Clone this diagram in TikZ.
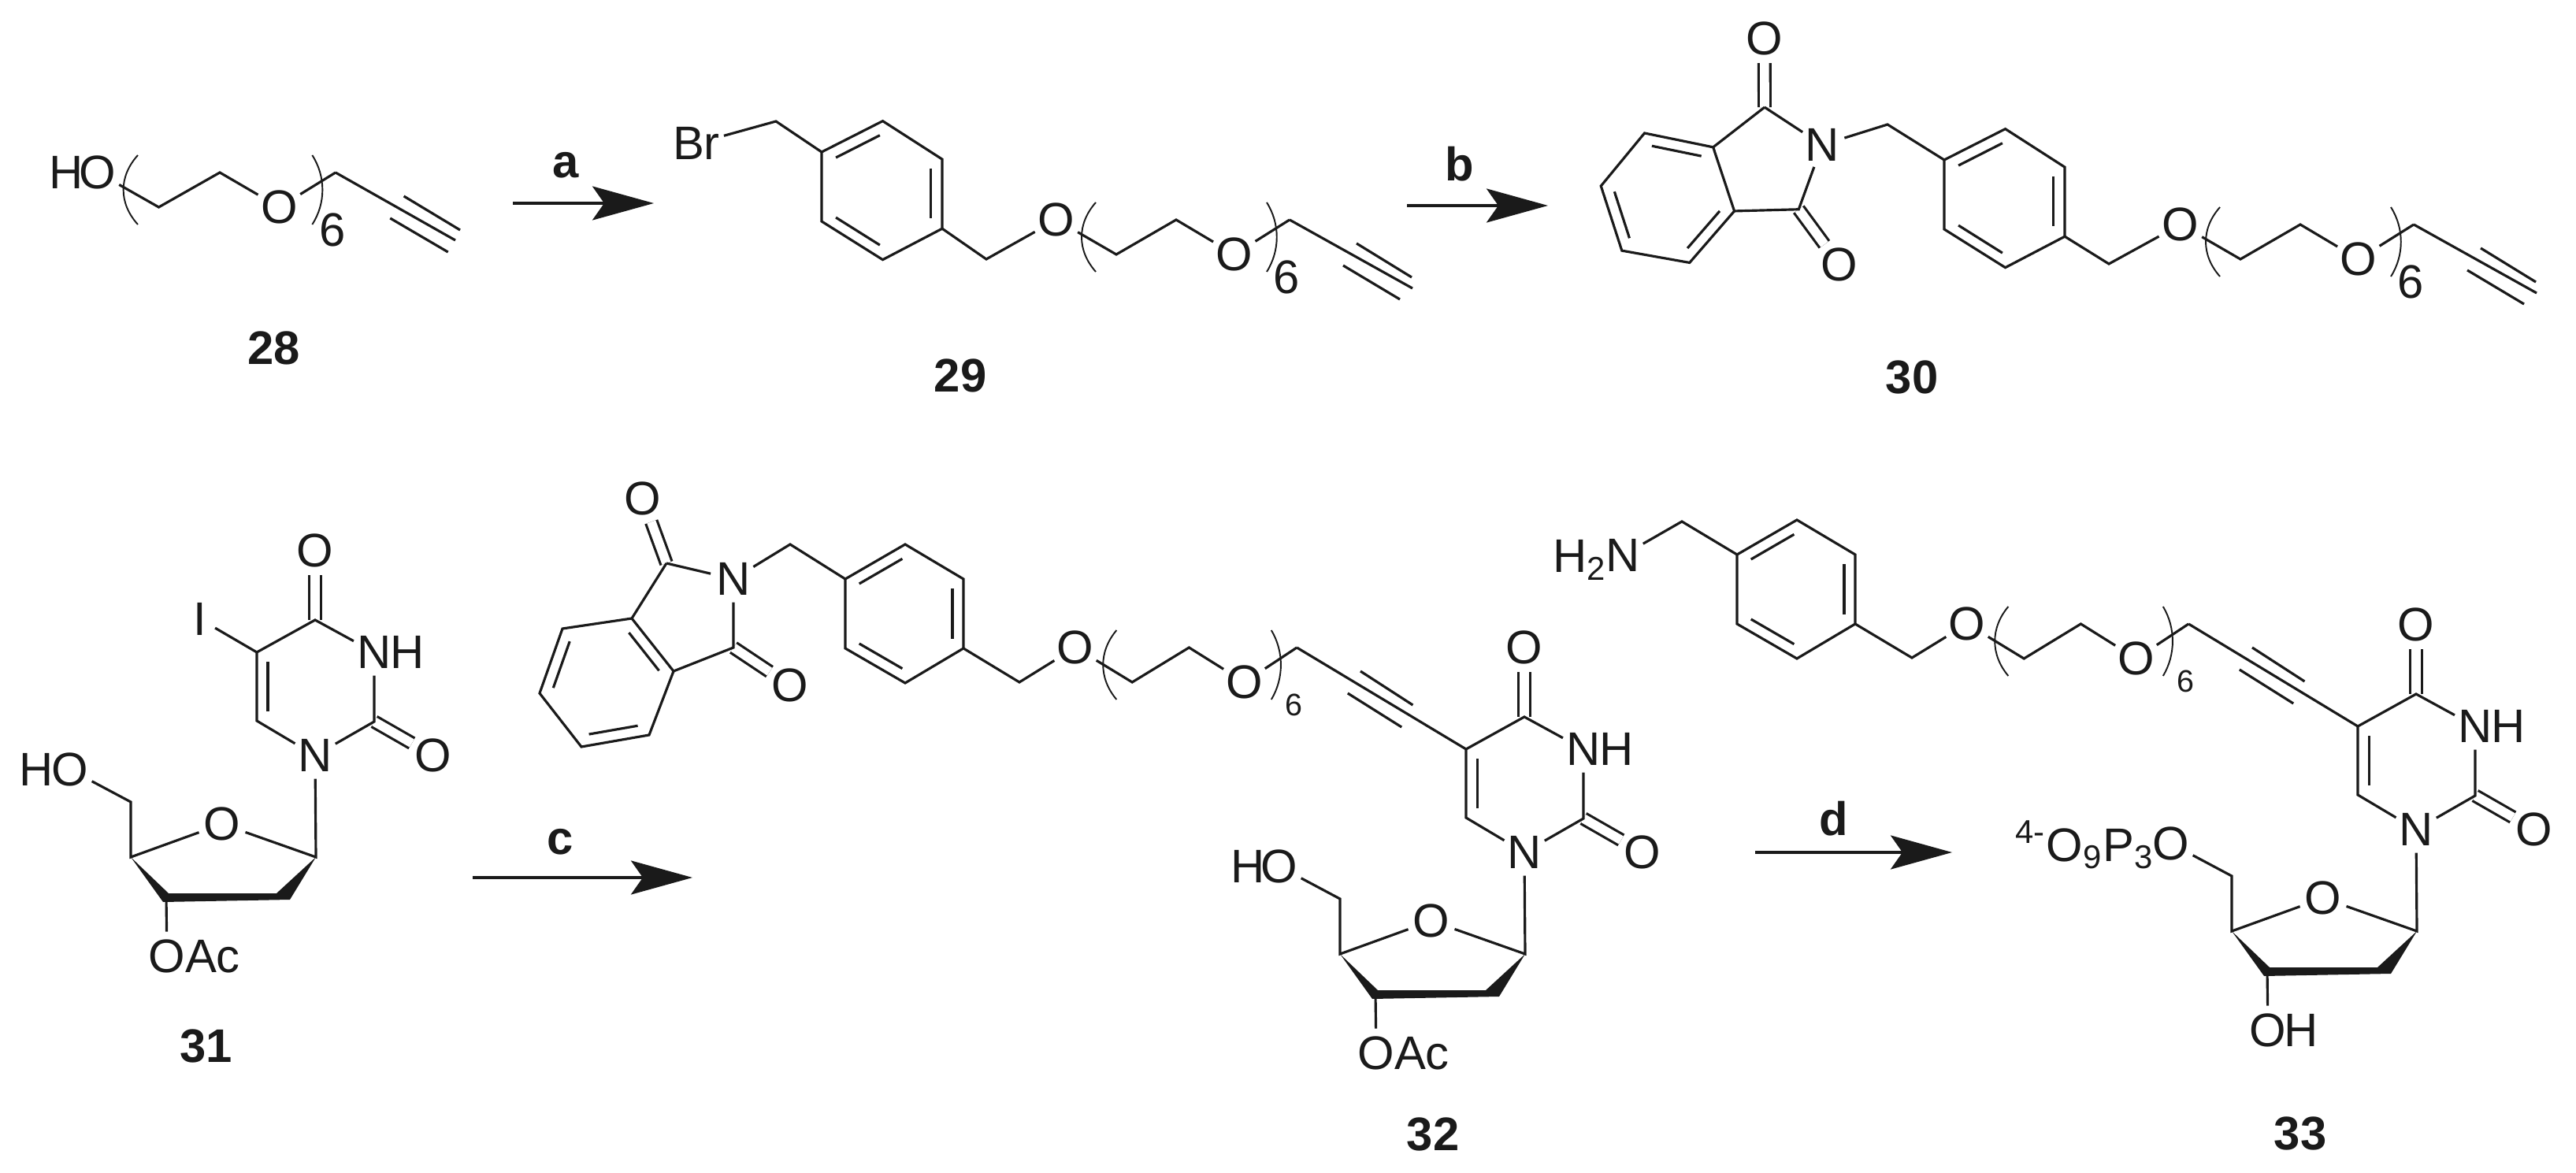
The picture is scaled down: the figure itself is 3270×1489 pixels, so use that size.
\documentclass[tikz,border=0pt]{standalone}
\usepackage{fontspec}
\setmainfont{Liberation Sans}
\usetikzlibrary{arrows.meta, calc}
\definecolor{ink}{HTML}{1A1A1A}
\newcommand{\inbond}[2]{\draw[bond] ($(#1)!.14!(#2)!4pt!-90:(#2)$) -- ($(#2)!.14!(#1)!4pt!90:(#1)$);}
\tikzset{
	peg/.pic={
		\pgfmathsetmacro\brk{15*(1-#1)}
		\node[atom] (o1) at (0,0) {O}; \node[atom] (o2) at (226,44) {O};
		\coordinate (p1) at (76,44); \coordinate (p2) at (152,0); \coordinate (end) at (296,0);
		\draw[bond] (o1) -- (p1) -- (p2) -- (o2) -- (end);
		\draw[brack] ({50+\brk},-22) .. controls ({26+\brk},5) and ({26+\brk},39) .. ({50+\brk},66);
		\draw[brack] ({267-\brk},-22) .. controls ({284-\brk},5) and ({284-\brk},39) .. ({267-\brk},66);
		\node[lab, scale=#1] (six) at (292,73) {6};
		\draw[bond] (381,30) -- (451,73);
		\draw[bond] (364,58) -- (436,101);
	},
	para/.pic={
		\coordinate (c1) at (0,0); \coordinate (c2) at (76,-44); \coordinate (c3) at (150,0);
		\coordinate (c4) at (150,88); \coordinate (c5) at (76,132); \coordinate (c6) at (0,88);
		\draw[bond] (c1) -- (c2) -- (c3) -- (c4) -- (c5) -- (c6) -- cycle;
		\inbond{c1}{c2} \inbond{c3}{c4} \inbond{c5}{c6}
	},
	phthal/.pic={
		\node[atom] (n) at (0,0) {N}; \node[atom] (o1) at (-115,-102) {O}; \node[atom] (o2) at (72,135) {O};
		\coordinate (c1) at (-85,-20); \coordinate (c2) at (0,87);
		\coordinate (j1) at (-129,50); \coordinate (j2) at (-76,117);
		\coordinate (b1) at (-217,63); \coordinate (b2) at (-246,145);
		\coordinate (b3) at (-193,213); \coordinate (b4) at (-107,198);
		\draw[dbl] (c1) -- (o1);
		\draw[dbl] (c2) -- (o2);
		\draw[bond] (c1) -- (n) -- (c2) -- (j2) -- (j1) -- (c1);
		\draw[bond] (j1) -- (b1) -- (b2) -- (b3) -- (b4) -- (j2);
	},
	nucleo/.pic={
		\node[atom] (n1) at (0,0) {N}; \node[atom] (n3) at (75,-131) {N}; \node[lab] (h3) at (117,-131) {H};
		\node[atom] (o4) at (0,-260) {O}; \node[atom] (o2) at (150,0) {O};
		\node[atom] (or) at (-118,87) {O}; \node[atom] (o3) at (-188,255) {O}; \node[atom] (o5) at (-311,18) {O};
		\coordinate (c2) at (75,-43); \coordinate (c4) at (0,-172); \coordinate (c5) at (-74,-131); \coordinate (c6) at (-74,-44);
		\coordinate (s1) at (1,129); \coordinate (s3) at (-189,180); \coordinate (s4) at (-234,129); \coordinate (s5) at (-234,59);
		\draw[dbl] (c4) -- (o4);
		\draw[dbl] (c2) -- (o2);
		\draw[bond] (n1) -- (c6) -- (c5) -- (c4) -- (n3) -- (c2) -- (n1);
		\inbond{c6}{c5}
		\draw[bond] (n1) -- (s1) -- (or) -- (s4) -- (s5) -- (o5);
		\draw[bond] (s3) -- (o3);
		\fill[ink] (s4) -- (-186,175) -- (-49,175) -- (s1) -- (-32,183) -- (-193,186) -- cycle;
	}
}
\begin{document}
\begin{tikzpicture}[x=.01cm, y=-.01cm,
		atom/.style={circle, inner sep=0pt, outer sep=0pt, text=ink, font=\fontsize{17}{20}\selectfont},
		lab/.style={inner sep=0pt, outer sep=0pt, text=ink, font=\fontsize{17}{20}\selectfont},
		num/.style={inner sep=0pt, text=ink, font=\fontsize{17}{20}\selectfont\bfseries},
		bond/.style={draw=ink, line width=.9pt},
		dbl/.style={draw=ink, line width=.9pt, double=white, double distance=3.3pt},
		brack/.style={draw=ink, line width=.55pt},
		rxn/.style={draw=ink, line width=.9pt, -{Stealth[length=.78cm, width=.43cm, inset=.15cm]}}]
	\useasboundingbox (0,0) rectangle (3270,1489);

	\pic[xscale=1.02] (p28-) at (124,219) {peg=1};
	\node[lab] (h28) at (84,219) {H};
	\coordinate (t28) at (578,305);
	\draw[bond] (p28-end) -- (t28);
	\node[num] (m28) at (348,442) {28};

	\coordinate (as) at (651,258); \coordinate (ae) at (830,258);
	\draw[rxn] (as) -- (ae);
	\node[num] (ra) at (718,210) {a};

	\pic[yslant=-.06, xscale=1.02] (r29-) at (1043,193) {para};
	\pic (p29-) at (1341,279) {peg=1};
	\node[atom] (br29) at (884,182) {Br};
	\coordinate (k29) at (985,154); \coordinate (q29) at (1252,329); \coordinate (t29) at (1793,366);
	\draw[bond] (br29) -- (k29) -- (r29-c1);
	\draw[bond] (r29-c4) -- (q29) -- (p29-o1);
	\draw[bond] (p29-end) -- (t29);
	\node[num] (m29) at (1219,477) {29};

	\coordinate (bs) at (1786,261); \coordinate (be) at (1965,261);
	\draw[rxn] (bs) -- (be);
	\node[num] (rb) at (1853,208) {b};

	\pic[rotate=-20] (f30-) at (2313,184) {phthal};
	\inbond{f30-b1}{f30-j1} \inbond{f30-b3}{f30-b2} \inbond{f30-j2}{f30-b4}
	\pic[yslant=-.06, xscale=1.02] (r30-) at (2468,203) {para};
	\pic (p30-) at (2768,285) {peg=1};
	\coordinate (k30) at (2396,158); \coordinate (q30) at (2677,335); \coordinate (t30) at (3220,372);
	\draw[bond] (f30-n) -- (k30) -- (r30-c1);
	\draw[bond] (r30-c4) -- (q30) -- (p30-o1);
	\draw[bond] (p30-end) -- (t30);
	\node[num] (m30) at (2427,479) {30};

	\pic (u31-) at (400,959) {nucleo};
	\node[atom] (i31) at (254,786) {I};
	\draw[bond] (i31) -- (u31-c5);
	\node[lab] (h31) at (46,977) {H};
	\node[lab, anchor=west] (ac31) at (235,1214) {Ac};
	\node[num] (m31) at (262,1328) {31};

	\coordinate (cs) at (600,1114); \coordinate (ce) at (879,1114);
	\draw[rxn] (cs) -- (ce);
	\node[num] (rc) at (711,1069) {c};

	\pic (f32-) at (931,735) {phthal};
	\inbond{f32-j1}{f32-j2} \inbond{f32-b4}{f32-b3} \inbond{f32-b2}{f32-b1}
	\pic (r32-) at (1073,735) {para};
	\pic[xscale=.95] (p32-) at (1365,822) {peg=.66};
	\pic (u32-) at (1935,1082) {nucleo};
	\coordinate (k32) at (1003,691); \coordinate (q32) at (1294,866);
	\draw[bond] (f32-n) -- (k32) -- (r32-c1);
	\draw[bond] (r32-c4) -- (q32) -- (p32-o1);
	\draw[bond] (p32-end) -- (u32-c5);
	\node[lab] (h32) at (1584,1100) {H};
	\node[lab, anchor=west] (ac32) at (1770,1337) {Ac};
	\node[num] (m32) at (1819,1440) {32};

	\coordinate (ds) at (2228,1082); \coordinate (de) at (2478,1082);
	\draw[rxn] (ds) -- (de);
	\node[num] (rd) at (2328,1039) {d};

	\pic (r33-) at (2205,704) {para};
	\pic[xscale=.95] (p33-) at (2497,792) {peg=.66};
	\pic (u33-) at (3067,1053) {nucleo};
	\node[atom] (n33) at (2060,705) {N};
	\node[lab, anchor=base east] (h33) at (2040,727) {H\textsubscript{2}};
	\coordinate (k33) at (2135,662); \coordinate (q33) at (2427,835);
	\draw[bond] (n33) -- (k33) -- (r33-c1);
	\draw[bond] (r33-c4) -- (q33) -- (p33-o1);
	\draw[bond] (p33-end) -- (u33-c5);
	\node[lab, anchor=base east] (tp33) at (2734,1093) {\textsuperscript{4-}O\textsubscript{9}P\textsubscript{3}};
	\node[lab] (oh33) at (2921,1308) {H};
	\node[num] (m33) at (2920,1439) {33};
\end{tikzpicture}
\end{document}
